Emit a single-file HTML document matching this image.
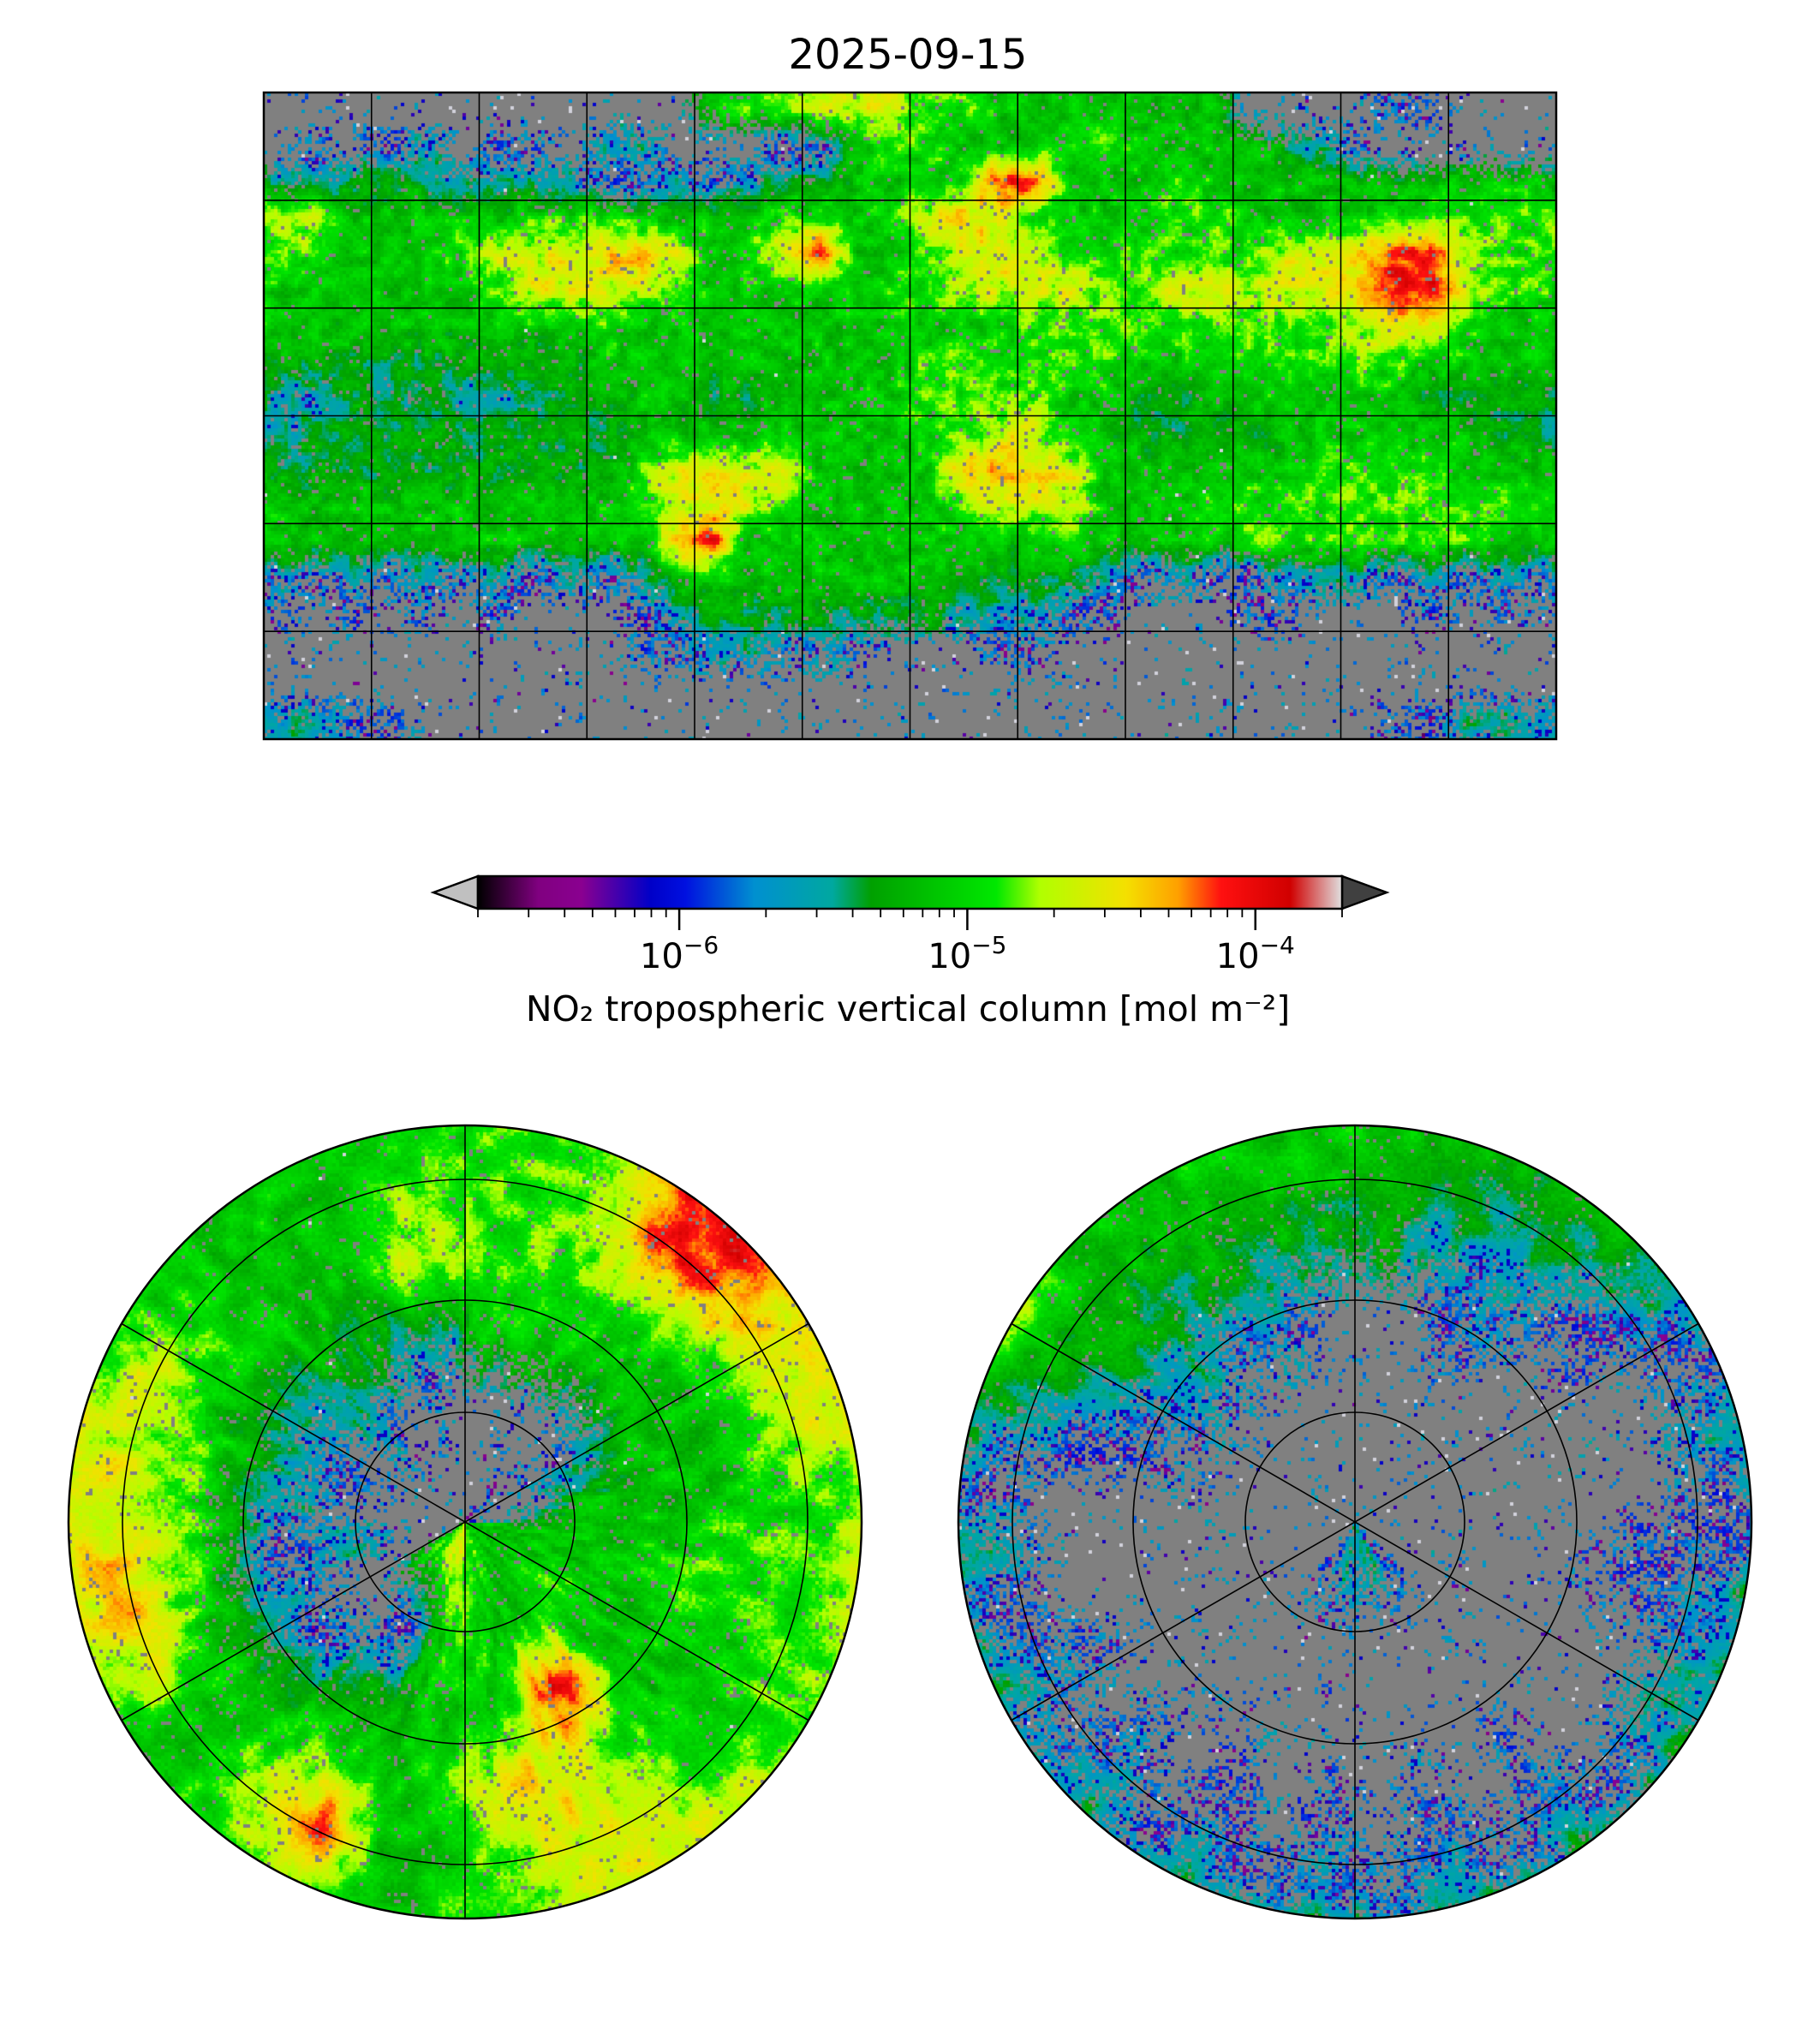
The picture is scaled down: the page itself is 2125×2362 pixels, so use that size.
<!DOCTYPE html>
<html><head><meta charset="utf-8">
<style>
html,body{margin:0;padding:0;background:#fff;}
#root{position:relative;width:2125px;height:2362px;overflow:hidden;font-family:"DejaVu Sans","Liberation Sans",sans-serif;}
canvas{position:absolute;}
svg{position:absolute;left:0;top:0;}
</style></head>
<body>
<div id="root">
<canvas id="mapc" width="1509" height="755" style="left:308px;top:108px"></canvas>
<canvas id="northc" width="926" height="926" style="left:80px;top:1314px"></canvas>
<canvas id="southc" width="926" height="926" style="left:1119px;top:1314px"></canvas>
<svg id="ov" width="2125" height="2362">
<defs>
<linearGradient id="cbg" x1="0" x2="1" y1="0" y2="0">
<stop offset="0" stop-color="#000000"/><stop offset="0.07" stop-color="#800080"/><stop offset="0.12" stop-color="#8a0090"/>
<stop offset="0.2" stop-color="#0000c8"/><stop offset="0.24" stop-color="#0010e0"/><stop offset="0.32" stop-color="#0090d0"/>
<stop offset="0.41" stop-color="#00a8a0"/><stop offset="0.455" stop-color="#00a000"/><stop offset="0.6" stop-color="#00e800"/>
<stop offset="0.65" stop-color="#b0ff00"/><stop offset="0.75" stop-color="#f4e000"/><stop offset="0.81" stop-color="#ffa000"/>
<stop offset="0.86" stop-color="#ff1010"/><stop offset="0.94" stop-color="#d00000"/><stop offset="1" stop-color="#e0e0e0"/>
</linearGradient>
</defs>
<text x="1060" y="80" font-size="48" text-anchor="middle" fill="#000">2025-09-15</text>
<g id="mapgrid"></g>
<rect x="308" y="108" width="1509" height="755" fill="none" stroke="#000" stroke-width="2.5"/>
<g id="colorbar">
<polygon points="558,1023 506,1042 558,1061" fill="#c0c0c0" stroke="#000" stroke-width="2.5"/>
<polygon points="1567,1023 1619,1042 1567,1061" fill="#404040" stroke="#000" stroke-width="2.5"/>
<rect x="558" y="1023" width="1009" height="38" fill="url(#cbg)" stroke="#000" stroke-width="2.5"/>
<g id="cbticks"></g>
<text x="1060" y="1192" font-size="41" text-anchor="middle">NO₂ tropospheric vertical column [mol m⁻²]</text>
</g>
<g id="polargrid"></g>
</svg>
</div>
<script>
// Data: coarse 10°x10° grid of NO2 level classes (rows 90N→90S, cols 180W→180E)
const no2Rows = [
"000000000000455666554444444000011000",
"010120110220001145544455444432100000",
"223332222112123344458844454444434444",
"664444455544445545676544455444455555",
"554445666776456844566655555566788655",
"444444566665444445566665566666788655",
"444444444544444444444555555555666544",
"333333333444444444555555445555554444",
"223232233344334444555544334444443333",
"233333333344444444556644333344444433",
"333333333356766444477764444445555444",
"444444444456665444456664445555555555",
"444444444447844444444454444555555544",
"212121212124444444433332121122212121",
"101010100012333333322211000110001010",
"000000000011221210001100000000000000",
"000000000000000000000000000000000000",
"221100000000000000000000000000011222"
];
const levelLog = [-5.7,-5.85,-5.55,-5.3,-5.1,-4.9,-4.62,-4.42,-4.05];
const levelMissing = [0.95,0.5,0.1,0.03,0.02,0.02,0.02,0.02,0.02];
const cbDecades = [-6,-5,-4];
const cbMin = Math.log10(2e-7), cbMax = Math.log10(2e-4);

const stops=[[0,[0,0,0]],[0.07,[128,0,128]],[0.12,[138,0,144]],[0.2,[0,0,200]],[0.24,[0,16,224]],[0.32,[0,144,208]],[0.41,[0,168,160]],[0.455,[0,160,0]],[0.6,[0,232,0]],[0.65,[176,255,0]],[0.75,[244,224,0]],[0.81,[255,160,0]],[0.86,[255,16,16]],[0.94,[208,0,0]],[1,[224,224,224]]];
function cmap(v){let t=(v-cbMin)/(cbMax-cbMin);t=Math.max(0,Math.min(1,t));
 for(let i=1;i<stops.length;i++){if(t<=stops[i][0]){const a=stops[i-1],b=stops[i];const f=(t-a[0])/(b[0]-a[0]);
 return [0,1,2].map(k=>Math.round(a[1][k]+(b[1][k]-a[1][k])*f));}}return stops[stops.length-1][1];}
function hash(x,y,s){let h=(x*374761393+y*668265263+s*982451653)|0;h=(h^(h>>>13))*1274126177|0;h=h^(h>>>16);return ((h>>>0)%100000)/100000;}
function vnoise(x,y,s){const xi=Math.floor(x),yi=Math.floor(y),fx=x-xi,fy=y-yi;const sx=fx*fx*(3-2*fx),sy=fy*fy*(3-2*fy);
 const a=hash(xi,yi,s),b=hash(xi+1,yi,s),c=hash(xi,yi+1,s),d=hash(xi+1,yi+1,s);return a+(b-a)*sx+(c-a)*sy+(a-b-c+d)*sx*sy;}
function cell(r,c){r=Math.max(0,Math.min(17,r));c=((c%36)+36)%36;return +no2Rows[r][c];}
function field(lat,lon){const fr=(90-lat)/10-0.5,fc=(lon+180)/10-0.5;const r0=Math.floor(fr),c0=Math.floor(fc),a=fr-r0,b=fc-c0;
 let v=0,m=0;const w=[[r0,c0,(1-a)*(1-b)],[r0,c0+1,(1-a)*b],[r0+1,c0,a*(1-b)],[r0+1,c0+1,a*b]];
 for(const [r,c,ww] of w){const k=cell(r,c);v+=levelLog[k]*ww;m+=levelMissing[k]*ww;}return [v,m];}
function sample(lat,lon,ix,iy){let [v,m]=field(lat,lon);
 v+=(vnoise(lon*0.35,lat*0.35,1)-0.5)*0.4+(hash(ix,iy,2)-0.5)*0.14;
 m+= (vnoise(lon*0.5,lat*0.5,3)-0.5)*0.3;
 if(hash(ix,iy,4)<m) return (hash(ix,iy,7)<0.008)?[210,210,220]:[128,128,128];
 if(v<-5.6 && hash(ix,iy,5)<0.25) v-=0.45;
 return cmap(v);}
const MW=1509, MH=755;
(function(){const cv=document.getElementById('mapc'),ctx=cv.getContext('2d');const B=4;
 for(let by=0;by<MH/B;by++)for(let bx=0;bx<MW/B;bx++){const lat=90-(by+0.5)*B/MH*180,lon=-180+(bx+0.5)*B/MW*360;
 const c=sample(lat,lon,bx,by);ctx.fillStyle=`rgb(${c[0]},${c[1]},${c[2]})`;ctx.fillRect(bx*B,by*B,B,B);}})();
function polar(id,north){const cv=document.getElementById(id),ctx=cv.getContext('2d');const R=463,B=4;
 ctx.save();ctx.beginPath();ctx.arc(463,463,R,0,Math.PI*2);ctx.clip();
 for(let by=0;by<926/B;by++)for(let bx=0;bx<926/B;bx++){const dx=bx*B+B/2-463,dy=by*B+B/2-463;const r=Math.sqrt(dx*dx+dy*dy)/R;if(r>1.02)continue;
 let lon=north?Math.atan2(dx,dy)*180/Math.PI:Math.atan2(dx,-dy)*180/Math.PI;const col=r*(north?52:48);const lat=north?90-col:-90+col;
 const c=sample(lat,lon,bx+(north?0:999),by);ctx.fillStyle=`rgb(${c[0]},${c[1]},${c[2]})`;ctx.fillRect(bx*B,by*B,B,B);}
 ctx.restore();}
polar('northc',true);polar('southc',false);

const NS='http://www.w3.org/2000/svg';
function mk(tag,attrs,parent){const e=document.createElementNS(NS,tag);for(const k in attrs)e.setAttribute(k,attrs[k]);parent.appendChild(e);return e;}
const mg=document.getElementById('mapgrid');
for(let i=1;i<12;i++){const x=308+i*MW/12;const l=mk('line',{x1:x,x2:x,y1:108,y2:108+MH,stroke:'#000','stroke-width':1.6},mg);
 
 }
for(let i=1;i<6;i++){const y=108+i*MH/6;const l=mk('line',{x1:308,x2:308+MW,y1:y,y2:y,stroke:'#000','stroke-width':1.6},mg);
 
 }
const cbt=document.getElementById('cbticks');
function cbx(lg){return 558+(lg-cbMin)/(cbMax-cbMin)*1009;}
for(let d=-7;d<=-4;d++)for(let m=1;m<10;m++){const lg=d+Math.log10(m);if(lg<cbMin-1e-6||lg>cbMax+1e-6)continue;const x=cbx(lg);const major=m===1;
 const t=mk('line',{x1:x,x2:x,y1:1061,y2:major?1086:1071,stroke:'#000','stroke-width':major?2.5:1.8},cbt);
 
 }
for(const d of cbDecades){const x=cbx(d);const tx=mk('text',{x:x,y:1130,'font-size':40,'text-anchor':'middle'},cbt);
 
 
 tx.appendChild(document.createTextNode('10'));const ts=mk('tspan',{dy:-17,'font-size':28},tx);ts.textContent='−'+(-d);}
const pg=document.getElementById('polargrid');
for(const cx of [543,1582]){const cy=1777;
 for(const rr of [128,259,400]){const c=mk('circle',{cx:cx,cy:cy,r:rr,fill:'none',stroke:'#000','stroke-width':1.6},pg);
  
  }
 for(const a of [30,90,150]){const ar=a*Math.PI/180;const dx=Math.cos(ar)*463,dy=Math.sin(ar)*463;
  const l=mk('line',{x1:cx-dx,y1:cy-dy,x2:cx+dx,y2:cy+dy,stroke:'#000','stroke-width':1.6},pg);
  
  }
 const b=mk('circle',{cx:cx,cy:cy,r:463,fill:'none',stroke:'#000','stroke-width':2.5},pg);
 
 }
</script>
</body></html>
